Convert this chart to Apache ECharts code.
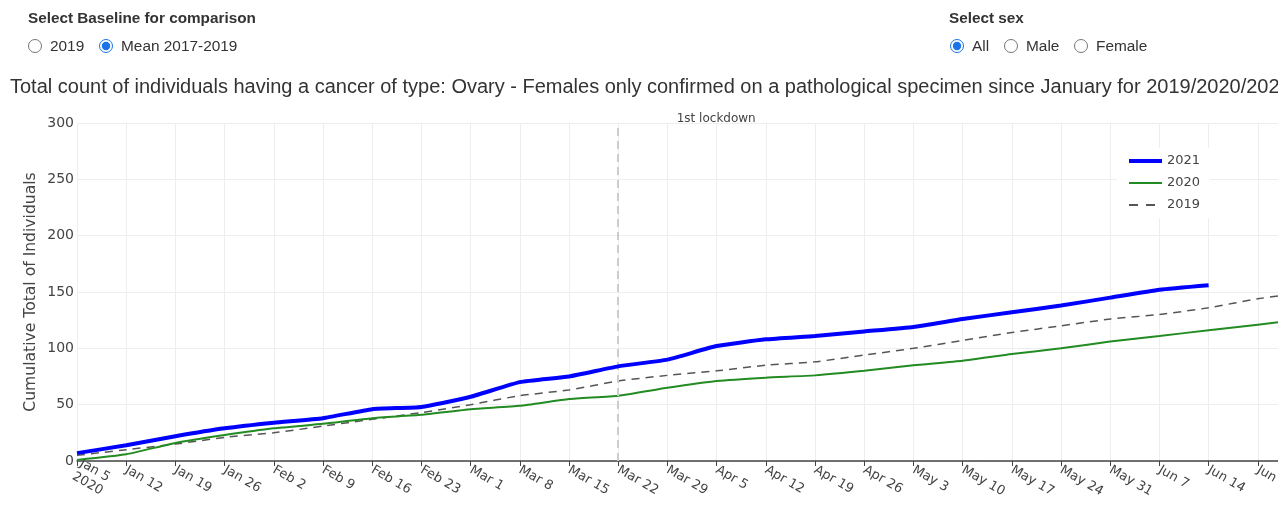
<!DOCTYPE html>
<html><head><meta charset="utf-8">
<script src="https://cdn.jsdelivr.net/npm/echarts@6/dist/echarts.min.js"></script>
<style>
html,body{margin:0;padding:0;background:#fff;width:1278px;height:507px;overflow:hidden;font-family:"Liberation Sans",Arial,sans-serif;}
#chart{position:absolute;left:0;top:0;width:1278px;height:507px;}
.hd{position:absolute;font-weight:bold;font-size:15.3px;color:#333;line-height:18px;z-index:2;}
.rb{position:absolute;font-size:15.4px;color:#333;line-height:18px;z-index:2;white-space:nowrap;}
.rb input{position:absolute;left:0;top:2px;margin:0;width:14px;height:14px;accent-color:#1a73e8;}
.rb span{position:absolute;left:22px;top:0;}
</style>
</head><body>
<div id="chart"></div>
<div id="controls"></div>
<script>
// ---- data ----
const weekLabels = ["Jan 5\n2020","Jan 12","Jan 19","Jan 26","Feb 2","Feb 9","Feb 16","Feb 23","Mar 1","Mar 8","Mar 15","Mar 22","Mar 29","Apr 5","Apr 12","Apr 19","Apr 26","May 3","May 10","May 17","May 24","May 31","Jun 7","Jun 14","Jun 21"];
const values2021 = [7,14,22,29,34,38,46,48,57,70,75,84,90,102,108,111,115,119,126,132,138,145,152,156];
const values2020 = [1,6,16,23,29,33,38,41,46,49,55,58,65,71,74,76,80,85,89,95,100,106,111,116,121,126];
const values2019 = [5,10,15,21,25,31,37,43,50,58,63,71,76,80,85,88,94,100,107,114,120,126,130,136,144,150];
const lockdownWeek = 11;
const lockdownLabel = "1st lockdown";
const titleText = "Total count of individuals having a cancer of type: Ovary - Females only confirmed on a pathological specimen since January for 2019/2020/2021";
const yAxisTitle = "Cumulative Total of Individuals";
const baselineOptions = [["2019",false,28],["Mean 2017-2019",true,99]];
const sexOptions = [["All",true,950],["Male",false,1004],["Female",false,1074]];

// ---- controls (html) ----
const ctl = document.getElementById('controls');
function hd(text,left){const d=document.createElement('div');d.className='hd';d.style.left=left+'px';d.style.top='9px';d.textContent=text;ctl.appendChild(d);}
function rb(group,opt){const l=document.createElement('label');l.className='rb';l.style.left=opt[2]+'px';l.style.top='37px';
 const i=document.createElement('input');i.type='radio';i.name=group;i.checked=opt[1];l.appendChild(i);
 const s=document.createElement('span');s.textContent=opt[0];l.appendChild(s);ctl.appendChild(l);}
hd("Select Baseline for comparison",28);
baselineOptions.forEach(o=>rb('base',o));
hd("Select sex",949);
sexOptions.forEach(o=>rb('sex',o));

// ---- chart ----
const pairs = arr => arr.map((v,i)=>[i,v]);
const axisFont = "DejaVu Sans";
const chart = echarts.init(document.getElementById('chart'));
chart.setOption({
  animation:false,
  backgroundColor:'#fff',
  title:{text:titleText,left:5,top:72,textStyle:{fontFamily:'Liberation Sans',fontSize:20,fontWeight:'normal',color:'#333'}},
  grid:{left:77,right:0,top:123,bottom:46,containLabel:false,outerBoundsMode:'none'},
  legend:{data:[
      {name:'2021',lineStyle:{width:4}},
      {name:'2020',lineStyle:{width:2}},
      {name:'2019',lineStyle:{width:2,type:[9,8]}}],
    orient:'vertical',left:1117,top:148,itemWidth:33,itemHeight:14,itemGap:8,padding:[6,10],
    backgroundColor:'#fff',itemStyle:{opacity:0},textStyle:{fontFamily:axisFont,fontSize:13,color:'#444',lineHeight:14}},
  xAxis:{type:'value',min:0,max:24.41,interval:1,
    axisLine:{lineStyle:{color:'#444',width:1.5}},
    axisTick:{show:true,length:5,lineStyle:{color:'#444'}},
    splitLine:{show:true,lineStyle:{color:'#eee',width:1}},
    axisLabel:{rotate:-30,margin:8,fontFamily:axisFont,fontSize:13,color:'#444',lineHeight:15,
      formatter:v=> (Number.isInteger(v) && weekLabels[v]!==undefined) ? weekLabels[v] : ''}},
  yAxis:{type:'value',min:0,max:300,interval:50,name:yAxisTitle,nameLocation:'middle',nameGap:38,nameMoveOverlap:false,
    nameTextStyle:{fontFamily:axisFont,fontSize:15.6,color:'#444'},
    axisLine:{show:false},axisTick:{show:false},
    axisLabel:{margin:3,fontFamily:axisFont,fontSize:14,color:'#444'},
    splitLine:{lineStyle:{color:'#eee',width:1}}},
  series:[
    {name:'2021',type:'line',data:pairs(values2021),symbol:'none',smooth:0.15,z:5,
      lineStyle:{color:'#0000ff',width:4},itemStyle:{color:'#0000ff'}},
    {name:'2020',type:'line',data:pairs(values2020),symbol:'none',smooth:0.15,z:4,
      lineStyle:{color:'#228b22',width:2},itemStyle:{color:'#228b22'}},
    {name:'2019',type:'line',data:pairs(values2019),symbol:'none',smooth:0.15,z:3,
      lineStyle:{color:'#555',width:1.5,type:[8,6]},itemStyle:{color:'#555'},
      markLine:{silent:true,symbol:'none',
        lineStyle:{color:'#ccc',width:2,type:[8,5]},
        label:{show:true,position:'end',formatter:lockdownLabel,fontFamily:axisFont,fontSize:12,color:'#444',offset:[98,7]},
        data:[{xAxis:lockdownWeek}]}}
  ]
});
</script>
</body></html>
